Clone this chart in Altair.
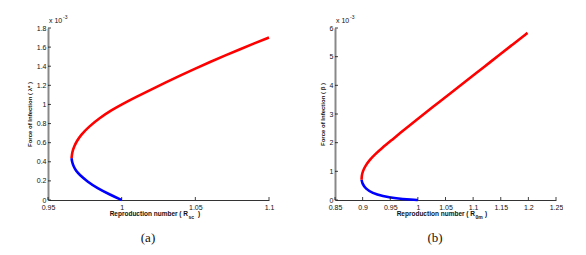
import altair as alt
import pandas as pd

# ---------- Panel (a) : force of infection lambda* (x 10^-3) vs R_sc ----------
a_blue_R = [0.9660, 0.9663, 0.9674, 0.9692, 0.9714, 0.9766, 0.9834, 0.9922, 1.0000]
a_blue_L = [0.4375, 0.400, 0.350, 0.300, 0.264, 0.194, 0.125, 0.055, 0.000]
a_red_R = [0.9660, 0.9664, 0.9677, 0.9697, 0.9723, 0.9777, 0.9852, 0.9932, 1.0000,
           1.0100, 1.0200, 1.0300, 1.0400, 1.0500, 1.0600, 1.0700, 1.0800, 1.0900, 1.1000]
a_red_L = [0.4375, 0.500, 0.560, 0.620, 0.680, 0.767, 0.860, 0.941, 1.000,
           1.079, 1.156, 1.231, 1.304, 1.375, 1.444, 1.511, 1.576, 1.639, 1.700]
a_xticks = [0.95, 1.0, 1.05, 1.1]
a_yticks = [0, 0.2, 0.4, 0.6, 0.8, 1.0, 1.2, 1.4, 1.6, 1.8]

# ---------- Panel (b) : force of infection beta (x 10^-3) vs R_0m ----------
b_blue_R = [0.8981, 0.8995, 0.9055, 0.9176, 0.9358, 0.9599, 0.9902, 1.0000]
b_blue_L = [0.708, 0.568, 0.394, 0.241, 0.136, 0.056, 0.010, 0.000]
b_red_R = [0.8981, 0.8984, 0.9002, 0.9052, 0.9128, 0.9228, 0.9345, 0.9520, 0.9665,
           0.9960, 1.0269, 1.0579, 1.0886, 1.1179, 1.1480, 1.1771, 1.1984]
b_red_L = [0.708, 0.850, 1.000, 1.200, 1.400, 1.600, 1.800, 2.080, 2.312,
           2.776, 3.240, 3.708, 4.172, 4.614, 5.068, 5.508, 5.830]
b_xticks = [0.85, 0.9, 0.95, 1.0, 1.05, 1.1, 1.15, 1.2, 1.25]
b_yticks = [0, 1, 2, 3, 4, 5, 6]

W, H = 221, 172
FONT = "Liberation Sans"


def curve_df(blue_R, blue_L, red_R, red_L):
    rows = []
    for i, (r, l) in enumerate(zip(blue_R, blue_L)):
        rows.append({"R": r, "L": l, "branch": "blue", "o": i})
    for i, (r, l) in enumerate(zip(red_R, red_L)):
        rows.append({"R": r, "L": l, "branch": "red", "o": i})
    return pd.DataFrame(rows)


def panel(blue_R, blue_L, red_R, red_L, xticks, yticks, ytitle, sub, caption):
    xs = alt.Scale(domain=[xticks[0], xticks[-1]], nice=False, zero=False)
    ys = alt.Scale(domain=[yticks[0], yticks[-1]], nice=False, zero=False)
    xaxis = alt.Axis(
        values=xticks, format="~g", title=None, grid=False, ticks=False,
        labelFlush=False, labelFontSize=7, labelFont=FONT, labelColor="#111",
        labelPadding=3, domainColor="#333", domainWidth=1)
    yaxis = alt.Axis(
        values=yticks, format="~g", title=ytitle, grid=False, ticks=False,
        labelFontSize=7, labelFont=FONT, labelColor="#111", labelPadding=2,
        titleFontSize=6, titleFont=FONT, titleFontWeight="bold",
        titleColor="#111", titlePadding=4,
        domainColor="#888", domainWidth=2)
    df = curve_df(blue_R, blue_L, red_R, red_L)
    line = alt.Chart(df).mark_line(strokeWidth=2.6, interpolate="basis").encode(
        x=alt.X("R:Q", scale=xs, axis=xaxis),
        y=alt.Y("L:Q", scale=ys, axis=yaxis),
        color=alt.Color("branch:N", scale=alt.Scale(domain=["blue", "red"],
                        range=["#0000ff", "#ff0000"]), legend=None),
        order="o:Q",
    )
    xt = alt.Chart(pd.DataFrame({"t": xticks})).mark_rule(color="#111", strokeWidth=0.8).encode(
        x=alt.X("t:Q", scale=xs, axis=xaxis), y=alt.value(H), y2=alt.value(H - 3))
    yt = alt.Chart(pd.DataFrame({"t": yticks})).mark_rule(color="#111", strokeWidth=0.8).encode(
        y=alt.Y("t:Q", scale=ys, axis=yaxis), x=alt.value(0), x2=alt.value(3))

    def txt(s, x, y, size=7, align="left", weight="bold", font=FONT):
        return alt.Chart(pd.DataFrame({"s": [s]})).mark_text(
            align=align, baseline="alphabetic", fontSize=size, font=font,
            fontWeight=weight, color="#111").encode(
            text="s:N", x=alt.value(x), y=alt.value(y))

    ann = [
        txt("Reproduction number ( R", 140, 188, size=6.5, align="right"),
        txt(sub, 140.5, 190.5, size=5),
        txt(")", 150, 188, size=6.5),
        txt("x 10", 1, -5, weight="normal"),
        txt("-3", 15, -9, size=5, weight="normal"),
        txt(caption, 100, 214, size=13, align="center", weight="normal",
            font="Liberation Serif"),
    ]
    return alt.layer(line, xt, yt, *ann).properties(width=W, height=H)


left = panel(a_blue_R, a_blue_L, a_red_R, a_red_L, a_xticks, a_yticks,
             "Force of Infection ( λ* )", "sc", "(a)")
right = panel(b_blue_R, b_blue_L, b_red_R, b_red_L, b_xticks, b_yticks,
              "Force of Infection ( β )", "0m", "(b)")

chart = alt.hconcat(left, right, spacing=44).properties(
    padding={"top": 7, "left": 18, "right": 0, "bottom": 0},
    background="white",
).configure_view(stroke=None)

chart.save("out.html", embed_options={"renderer": "svg", "actions": False})
